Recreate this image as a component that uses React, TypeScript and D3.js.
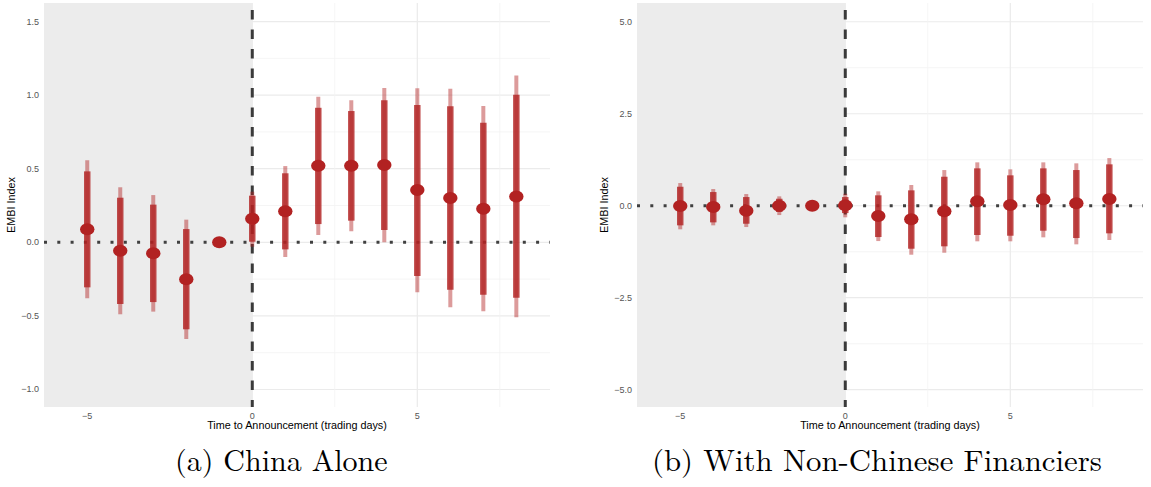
import React from "react";
import * as d3 from "d3";

const days = [-5, -4, -3, -2, -1, 0, 1, 2, 3, 4, 5, 6, 7, 8];

// (a) China Alone
const chinaEst = [0.088, -0.057, -0.075, -0.251, 0, 0.16, 0.211, 0.52, 0.52, 0.525, 0.355, 0.301, 0.228, 0.312];
const chinaInnerHi = [0.482, 0.303, 0.256, 0.09, 0, 0.317, 0.469, 0.914, 0.892, 0.965, 0.933, 0.924, 0.813, 1.003];
const chinaInnerLo = [-0.306, -0.419, -0.406, -0.591, 0, 0.004, -0.048, 0.124, 0.147, 0.084, -0.229, -0.322, -0.356, -0.376];
const chinaOuterHi = [0.557, 0.374, 0.321, 0.154, 0, 0.344, 0.518, 0.989, 0.965, 1.048, 1.046, 1.044, 0.926, 1.134];
const chinaOuterLo = [-0.38, -0.489, -0.471, -0.657, 0, -0.03, -0.1, 0.05, 0.075, 0.0, -0.34, -0.442, -0.469, -0.51];

// (b) With Non-Chinese Financiers
const mixedEst = [-0.01, -0.035, -0.136, 0.0, 0, 0.01, -0.28, -0.37, -0.152, 0.12, 0.019, 0.174, 0.065, 0.182];
const mixedInnerHi = [0.516, 0.372, 0.236, 0.19, 0, 0.236, 0.283, 0.418, 0.788, 1.016, 0.826, 1.016, 0.97, 1.125];
const mixedInnerLo = [-0.533, -0.452, -0.489, -0.17, 0, -0.2, -0.851, -1.168, -1.103, -0.796, -0.815, -0.679, -0.878, -0.75];
const mixedOuterHi = [0.617, 0.454, 0.318, 0.255, 0, 0.326, 0.391, 0.563, 0.97, 1.179, 0.989, 1.179, 1.152, 1.296];
const mixedOuterLo = [-0.641, -0.533, -0.579, -0.253, 0, -0.315, -0.96, -1.331, -1.277, -0.967, -0.967, -0.859, -1.049, -0.932];

const xTicks = [-5, 0, 5];
const xMinor = [-2.5, 2.5, 7.5];
const chinaYTicks = [-1, -0.5, 0, 0.5, 1, 1.5];
const chinaYMinor = [-0.75, -0.25, 0.25, 0.75, 1.25];
const mixedYTicks = [-5, -2.5, 0, 2.5, 5];
const mixedYMinor = [-3.75, -1.25, 1.25, 3.75];

const xLabel = "Time to Announcement (trading days)";
const yLabel = "EMBI Index";
const captions = ["(a) China Alone", "(b) With Non-Chinese Financiers"];

const RED = "#b22222";
const SANS = "'Liberation Sans', Arial, sans-serif";
const SERIF = "'Latin Modern Roman', 'Liberation Serif', serif";
const fmtY = d3.format(".1f");
const fmtX = d3.format("d");

type PanelProps = {
  left: number;
  right: number;
  xDomain: [number, number];
  yDomain: [number, number];
  yTicks: number[];
  yMinor: number[];
  est: number[];
  innerLo: number[];
  innerHi: number[];
  outerLo: number[];
  outerHi: number[];
  caption: string;
  captionX: number;
  captionLen?: number;
};

function Panel(p: PanelProps) {
  const top = 3;
  const bottom = 407;
  const x = d3.scaleLinear().domain(p.xDomain).range([p.left, p.right]);
  const y = d3.scaleLinear().domain(p.yDomain).range([bottom, top]);
  const x0 = x(0);
  const y0 = y(0);
  const cx = (p.left + p.right) / 2;
  return (
    <g>
      {p.yMinor.map((v) => (
        <line key={"ym" + v} x1={p.left} x2={p.right} y1={y(v)} y2={y(v)} stroke="#f2f2f2" strokeWidth={0.8} />
      ))}
      {p.yTicks.map((v) => (
        <line key={"yM" + v} x1={p.left} x2={p.right} y1={y(v)} y2={y(v)} stroke="#ebebeb" strokeWidth={1.2} />
      ))}
      {xMinor.map((v) => (
        <line key={"xm" + v} x1={x(v)} x2={x(v)} y1={top} y2={bottom} stroke="#f2f2f2" strokeWidth={0.8} />
      ))}
      {xTicks.map((v) => (
        <line key={"xM" + v} x1={x(v)} x2={x(v)} y1={top} y2={bottom} stroke="#ebebeb" strokeWidth={1.2} />
      ))}
      <rect x={p.left} y={top} width={x0 - p.left} height={bottom - top} fill="#ececec" />
      <line x1={p.left} x2={p.right} y1={y0} y2={y0} stroke="#404040" strokeWidth={3} strokeDasharray="3 10.3" />
      <line x1={x0} x2={x0} y1={top + 7} y2={bottom} stroke="#3a3a3a" strokeWidth={3} strokeDasharray="9.5 10" />
      {days.map((d, i) =>
        p.outerHi[i] !== p.outerLo[i] ? (
          <line key={"o" + d} x1={x(d)} x2={x(d)} y1={y(p.outerLo[i])} y2={y(p.outerHi[i])} stroke={RED} strokeOpacity={0.45} strokeWidth={4} />
        ) : null
      )}
      {days.map((d, i) =>
        p.innerHi[i] !== p.innerLo[i] ? (
          <line key={"i" + d} x1={x(d)} x2={x(d)} y1={y(p.innerLo[i])} y2={y(p.innerHi[i])} stroke={RED} strokeOpacity={0.8} strokeWidth={6.5} />
        ) : null
      )}
      {days.map((d, i) => (
        <ellipse key={"p" + d} cx={x(d)} cy={y(p.est[i])} rx={7.2} ry={6} fill={RED} />
      ))}
      {p.yTicks.map((v) => (
        <text key={"yt" + v} x={p.left - 5} y={y(v)} dy="0.33em" textAnchor="end" fontSize={9} fill="#555" fontFamily={SANS}>
          {fmtY(v)}
        </text>
      ))}
      {xTicks.map((v) => (
        <text key={"xt" + v} x={x(v)} y={418.5} textAnchor="middle" fontSize={9} fill="#555" fontFamily={SANS}>
          {fmtX(v)}
        </text>
      ))}
      <text x={cx} y={429} textAnchor="middle" fontSize={10.8} fill="#000" fontFamily={SANS}>
        {xLabel}
      </text>
      <text transform={`translate(${p.left - 29},${(top + bottom) / 2}) rotate(-90)`} textAnchor="middle" fontSize={10.8} fill="#000" fontFamily={SANS}>
        {yLabel}
      </text>
      <text x={p.captionX} y={471} textAnchor="start" fontSize={30} fill="#000" fontFamily={SERIF} textLength={p.captionLen} lengthAdjust="spacingAndGlyphs">
        {p.caption}
      </text>
    </g>
  );
}

export default function App() {
  return (
    <svg width={1151} height={487} style={{ position: "absolute", left: 0, top: 0, background: "#fff" }}>
      <rect width={1151} height={487} fill="#fff" />
      <Panel
        left={44}
        right={550}
        xDomain={[-6.31, 9.02]}
        yDomain={[-1.119, 1.626]}
        yTicks={chinaYTicks}
        yMinor={chinaYMinor}
        est={chinaEst}
        innerLo={chinaInnerLo}
        innerHi={chinaInnerHi}
        outerLo={chinaOuterLo}
        outerHi={chinaOuterHi}
        caption={captions[0]}
        captionX={175}
      />
      <Panel
        left={637}
        right={1143}
        xDomain={[-6.31, 9.02]}
        yDomain={[-5.47, 5.51]}
        yTicks={mixedYTicks}
        yMinor={mixedYMinor}
        est={mixedEst}
        innerLo={mixedInnerLo}
        innerHi={mixedInnerHi}
        outerLo={mixedOuterLo}
        outerHi={mixedOuterHi}
        caption={captions[1]}
        captionX={652}
        captionLen={450}
      />
    </svg>
  );
}
